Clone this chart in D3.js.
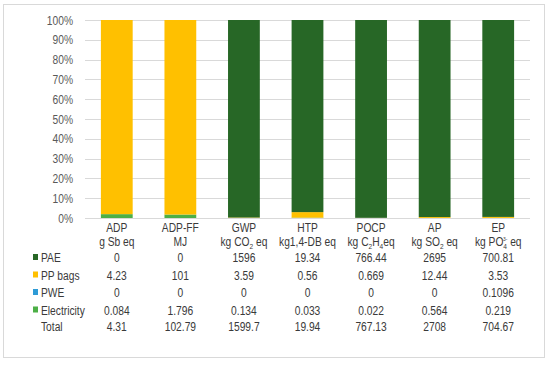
<!DOCTYPE html>
<html><head><meta charset="utf-8">
<script src="https://cdn.jsdelivr.net/npm/d3@7"></script>
<style>
body{margin:0;background:#fff;}
svg text{font-family:"Liberation Sans",Arial,sans-serif;fill:#3a3a3a;}
</style></head>
<body><svg id="c" width="550" height="366"></svg>
<script>
const categories = ["ADP","ADP-FF","GWP","HTP","POCP","AP","EP"];
const units = [
  [["g Sb eq"]],
  [["MJ"]],
  [["kg CO"],["2","sub"],[" eq"]],
  [["kg1,4-DB eq"]],
  [["kg C"],["2","sub"],["H"],["4","sub"],["eq"]],
  [["kg SO"],["2","sub"],[" eq"]],
  [["kg PO"],["4","sub"],["3-","supback"],[" eq"]]
];
const seriesNames = ["PAE","PP bags","PWE","Electricity"];
const PAE = [0,0,1596,19.34,766.44,2695,700.81];
const PPbags = [4.23,101,3.59,0.56,0.669,12.44,3.53];
const PWE = [0,0,0,0,0,0,0.1096];
const Electricity = [0.084,1.796,0.134,0.033,0.022,0.564,0.219];
const totalLabels = ["4.31","102.79","1599.7","19.94","767.13","2708","704.67"];
const valueLabels = [
  ["0","0","1596","19.34","766.44","2695","700.81"],
  ["4.23","101","3.59","0.56","0.669","12.44","3.53"],
  ["0","0","0","0","0","0","0.1096"],
  ["0.084","1.796","0.134","0.033","0.022","0.564","0.219"]
];
const yTicks = [0,0.1,0.2,0.3,0.4,0.5,0.6,0.7,0.8,0.9,1];
const colors = {"PAE":"#276726","PP bags":"#ffc000","PWE":"#2e9bd6","Electricity":"#4caf46"};
const SX = 0.82; // horizontal condensation (narrow font look)

const svg = d3.select("#c");
svg.append("rect").attr("x",3.5).attr("y",4.5).attr("width",541).attr("height",353)
  .attr("fill","#fff").attr("stroke","#d9d9d9");

const x = d3.scaleBand().domain(categories).range([85,530]).paddingInner(0.5).paddingOuter(0.25);
const y = d3.scaleLinear().domain([0,1]).range([218,20]);

function ntext(parent, px, py, anchor){
  return parent.append("text").attr("transform",`translate(${px},${py}) scale(${SX},1)`)
    .attr("text-anchor",anchor||"start").attr("font-size",12.5);
}

// gridlines
svg.append("g").selectAll("line").data(yTicks).join("line")
  .attr("x1",85).attr("x2",530).attr("y1",d=>Math.round(y(d))+0.5).attr("y2",d=>Math.round(y(d))+0.5)
  .attr("stroke","#d9d9d9").attr("stroke-width",1);

// y axis
const yAxis = d3.axisLeft(y).tickValues(yTicks).tickFormat(d3.format(".0%")).tickSize(0).tickPadding(0);
const ga = svg.append("g").attr("transform","translate(73,0)").call(yAxis);
ga.select(".domain").remove();
ga.selectAll("text").attr("font-size",12.5).attr("x",0).attr("transform",`scale(${SX},1)`).style("fill","#595959");

// stacked data (bottom to top: Electricity, PWE, PP bags, PAE)
const rows = categories.map((c,i)=>({cat:c,"PAE":PAE[i],"PP bags":PPbags[i],"PWE":PWE[i],"Electricity":Electricity[i]}));
const stack = d3.stack().keys(["Electricity","PWE","PP bags","PAE"]).offset(d3.stackOffsetExpand);
const layers = stack(rows);
svg.append("g").selectAll("g").data(layers).join("g").attr("fill",d=>colors[d.key])
  .selectAll("rect").data(d=>d).join("rect")
  .attr("x",d=>x(d.data.cat)).attr("width",x.bandwidth())
  .attr("y",d=>y(d[1])).attr("height",d=>Math.max(0,y(d[0])-y(d[1])));

// table header
const hdr = svg.append("g");
categories.forEach((c,i)=>{
  const cx = x(c)+x.bandwidth()/2;
  ntext(hdr,cx,232,"middle").text(c);
  const t = ntext(hdr,cx,246,"middle");
  let shift=0;
  units[i].forEach(p=>{
    const ts = t.append("tspan").text(p[0]);
    if(p[1]==="sub"){ts.attr("font-size",8).attr("dy",3-shift); shift=3;}
    else if(p[1]==="supback"){ts.attr("font-size",6).attr("dx",-5).attr("dy",-8); shift=-5;}
    else { if(shift!==0){ts.attr("dy",-shift);} shift=0; }
  });
});

// table rows
const rowY = [262,279.5,297,314.5,331];
seriesNames.forEach((s,r)=>{
  svg.append("rect").attr("x",33).attr("y",rowY[r]-8).attr("width",5).attr("height",6).attr("fill",colors[s]);
  ntext(svg,41,rowY[r]).text(s);
  valueLabels[r].forEach((v,i)=>ntext(svg,x(categories[i])+x.bandwidth()/2,rowY[r],"middle").text(v));
});
ntext(svg,41,rowY[4]).text("Total");
totalLabels.forEach((v,i)=>ntext(svg,x(categories[i])+x.bandwidth()/2,rowY[4],"middle").text(v));
</script></body></html>
